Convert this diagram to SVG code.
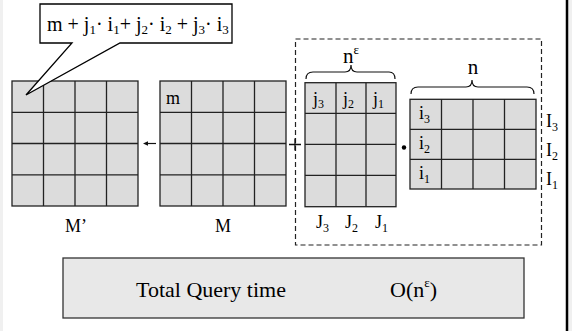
<svg xmlns="http://www.w3.org/2000/svg" width="572" height="331" viewBox="0 0 572 331">
<style>
.cell{fill:#dcdcdc;stroke:#222;stroke-width:1.3}
.gl{stroke:#222;stroke-width:1.3;fill:none}
.t{font-family:"Liberation Serif","Times New Roman",serif;fill:#000}
.brace{fill:none;stroke:#111;stroke-width:1.2}
</style>
<rect x="0" y="0" width="572" height="331" fill="#fff"/>
<rect x="0" y="0" width="3" height="331" fill="#f0f0f0"/>
<rect x="568" y="0" width="4" height="331" fill="#f0f0f0"/>
<line x1="567" y1="0" x2="567" y2="331" stroke="#000" stroke-width="2.5"/>

<g id="Mprime">
<rect class="cell" x="12" y="81" width="126" height="125"/>
<path class="gl" d="M43.5,81V206M75,81V206M106.5,81V206M12,112.3H138M12,143.5H138M12,174.8H138"/>
<text class="t" x="76" y="232" font-size="18" text-anchor="middle">M’</text>
</g>

<g id="M">
<rect class="cell" x="160" y="81" width="126" height="125"/>
<path class="gl" d="M191.5,81V206M223,81V206M254.5,81V206M160,112.3H286M160,143.5H286M160,174.8H286"/>
<text class="t" x="166" y="104" font-size="18">m</text>
<text class="t" x="223" y="232" font-size="18" text-anchor="middle">M</text>
</g>

<g id="callout">
<path d="M40,4 H232 V43 H120 L26,95 L72,43 H40 Z" fill="#fff" stroke="#000" stroke-width="1.3"/>
<text class="t" x="47" y="31" font-size="20">m + j<tspan font-size="13" dy="3">1</tspan><tspan dy="-3">· i</tspan><tspan font-size="13" dy="3">1</tspan><tspan dy="-3">+ j</tspan><tspan font-size="13" dy="3">2</tspan><tspan dy="-3">· i</tspan><tspan font-size="13" dy="3">2</tspan><tspan dy="-3"> + j</tspan><tspan font-size="13" dy="3">3</tspan><tspan dy="-3">· i</tspan><tspan font-size="13" dy="3">3</tspan></text>
</g>

<g id="dashedbox">
<rect x="295.5" y="39" width="246" height="206" fill="none" stroke="#222" stroke-width="1.2" stroke-dasharray="5,3"/>
</g>

<g id="J">
<rect class="cell" x="305" y="82.7" width="91" height="124"/>
<path class="gl" d="M336,82.7V206.7M366,82.7V206.7M305,113.3H396M305,144.3H396M305,175.3H396"/>
<text class="t" x="313" y="105" font-size="18">j<tspan font-size="12" dy="3">3</tspan></text>
<text class="t" x="343" y="105" font-size="18">j<tspan font-size="12" dy="3">2</tspan></text>
<text class="t" x="373" y="105" font-size="18">j<tspan font-size="12" dy="3">1</tspan></text>
<text class="t" x="316" y="228" font-size="18">J<tspan font-size="12" dy="4">3</tspan></text>
<text class="t" x="345" y="228" font-size="18">J<tspan font-size="12" dy="4">2</tspan></text>
<text class="t" x="375" y="228" font-size="18">J<tspan font-size="12" dy="4">1</tspan></text>
<path class="brace" d="M306,79 Q306,72 313,72 H345 Q351,72 351,65 Q351,72 357,72 H389 Q395,72 395,79"/>
<text class="t" x="343" y="63" font-size="21">n<tspan font-size="13" dy="-9">ε</tspan></text>
</g>

<g id="I">
<rect class="cell" x="410" y="99.3" width="126" height="89.7"/>
<path class="gl" d="M441.5,99.3V189M473,99.3V189M504.5,99.3V189M410,129.3H536M410,159.3H536"/>
<text class="t" x="419" y="119" font-size="18">i<tspan font-size="12" dy="4">3</tspan></text>
<text class="t" x="419" y="149" font-size="18">i<tspan font-size="12" dy="4">2</tspan></text>
<text class="t" x="419" y="179" font-size="18">i<tspan font-size="12" dy="4">1</tspan></text>
<text class="t" x="546" y="127" font-size="18">I<tspan font-size="12" dy="4">3</tspan></text>
<text class="t" x="546" y="156" font-size="18">I<tspan font-size="12" dy="4">2</tspan></text>
<text class="t" x="546" y="185" font-size="18">I<tspan font-size="12" dy="4">1</tspan></text>
<path class="brace" d="M411,94 Q411,87 418,87 H466 Q472,87 472,80 Q472,87 478,87 H527 Q534,87 534,94"/>
<text class="t" x="473" y="74" font-size="21" text-anchor="middle">n</text>
</g>

<g id="connectors">
<line x1="156" y1="143.5" x2="146" y2="143.5" stroke="#111" stroke-width="1.2"/>
<path d="M143,143.5 L148,141.3 L148,145.7 Z" fill="#111"/>
<path d="M289,144.5 H301 M295,138.5 V150.5" stroke="#111" stroke-width="1.3" fill="none"/>
<circle cx="404" cy="147.5" r="2.2" fill="#000"/>
</g>

<g id="total">
<rect x="63" y="258" width="461" height="60" fill="#e8e8e8" stroke="#333" stroke-width="1.3"/>
<text class="t" x="136" y="297" font-size="22">Total Query time</text>
<text class="t" x="390" y="297" font-size="22">O(n<tspan font-size="13" dy="-10">ε</tspan><tspan dy="10">)</tspan></text>
</g>
</svg>
